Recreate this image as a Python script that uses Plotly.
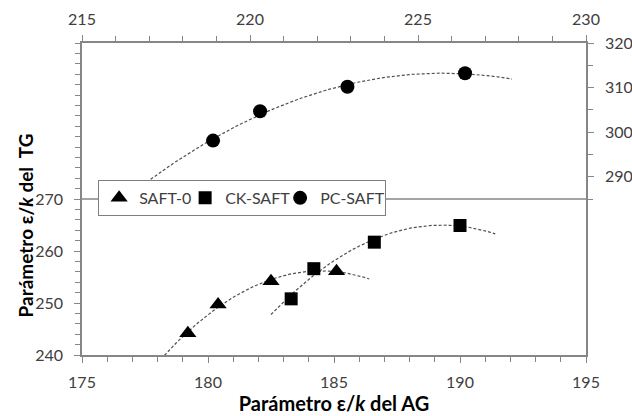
import numpy as np
import plotly.graph_objects as go

# ---- data ----
saft0_x = [179.2, 180.4, 182.5, 185.1]
saft0_y = [244.2, 249.7, 254.2, 256.1]
ck_x = [183.3, 184.2, 186.6, 190.0]
ck_y = [250.8, 256.6, 261.7, 264.9]
pc_x = [218.9, 220.3, 222.9, 226.4]   # top / right axes
pc_y = [298.1, 304.7, 310.2, 313.2]

saft0_trend_range = [178.0, 186.4]
ck_trend_range = [182.5, 191.4]
pc_trend_range = [216.8, 227.8]

bottom_ticks = [175, 180, 185, 190, 195]
left_ticks = [240, 250, 260, 270]
top_ticks = [215, 220, 225, 230]
right_ticks = [290, 300, 310, 320]
right_minor = [285, 295, 305, 315]

FONT = "Lato"
TICKC = "#404040"
AXC = "#868686"
TRENDC = "#505050"


def trend(xs, ys, rng):
    c = np.polyfit(xs, ys, 2)
    xx = np.linspace(rng[0], rng[1], 80)
    return xx, np.polyval(c, xx)


fig = go.Figure()

for xs, ys, rng, xa, ya in [
    (saft0_x, saft0_y, saft0_trend_range, "x", "y"),
    (ck_x, ck_y, ck_trend_range, "x", "y"),
    (pc_x, pc_y, pc_trend_range, "x2", "y2"),
]:
    tx, ty = trend(xs, ys, rng)
    fig.add_trace(go.Scatter(x=tx, y=ty, mode="lines", xaxis=xa, yaxis=ya,
                             line=dict(color=TRENDC, width=1.2, dash="3px,2px"),
                             showlegend=False, hoverinfo="skip"))

fig.add_trace(go.Scatter(x=saft0_x, y=saft0_y, mode="markers", name="SAFT-0",
                         legendwidth=41,
                         marker=dict(symbol="triangle-up", size=15, color="black")))
fig.add_trace(go.Scatter(x=ck_x, y=ck_y, mode="markers", name="CK-SAFT",
                         legendwidth=50,
                         marker=dict(symbol="square", size=13, color="black")))
fig.add_trace(go.Scatter(x=pc_x, y=pc_y, mode="markers", name="PC-SAFT",
                         legendwidth=60, xaxis="x2", yaxis="y2",
                         marker=dict(symbol="circle", size=14, color="black")))

# horizontal separator line at 270
fig.add_shape(type="line", xref="paper", yref="y", x0=0, x1=1, y0=270, y1=270,
              line=dict(color=AXC, width=1.5), layer="below")

# left axis title (placed to match the reference position)
fig.add_annotation(text="Parámetro ε/<i>k</i> del\u00a0 TG", xref="paper", yref="paper",
                   x=-0.112, y=0.414, xanchor="center", yanchor="middle",
                   textangle=-90, showarrow=False,
                   font=dict(family=FONT, size=19, color="black", weight="bold"))

tickfont = dict(family=FONT, size=16, color=TICKC)
common = dict(showline=True, linecolor=AXC, linewidth=1.5, showgrid=False,
              zeroline=False, ticks="outside", ticklen=6, tickcolor=AXC,
              tickwidth=1, tickfont=tickfont, automargin=False)

fig.update_layout(
    width=632, height=416,
    margin=dict(l=82, r=46, t=43, b=61),
    paper_bgcolor="white", plot_bgcolor="white",
    font=dict(family=FONT, color="black"),
    xaxis=dict(range=[175, 195], tickvals=bottom_ticks, anchor="y",
               ticklabelstandoff=6,
               minor=dict(dtick=1, tick0=175, ticks="outside", ticklen=5,
                          tickcolor=AXC),
               title=dict(text="Parámetro ε/<i>k</i> del AG",
                          font=dict(family=FONT, size=20, color="black",
                                    weight="bold"), standoff=6),
               **common),
    yaxis=dict(range=[240, 300], tickvals=left_ticks, anchor="x",
               ticklabelstandoff=8,
               minor=dict(dtick=2, tick0=240, ticks="outside", ticklen=5,
                          tickcolor=AXC),
               **common),
    xaxis2=dict(range=[215, 230], tickvals=top_ticks, overlaying="x",
                side="top", anchor="y2", ticklabelstandoff=4,
                minor=dict(dtick=1, tick0=215, ticks="outside", ticklen=5,
                           tickcolor=AXC),
                **common),
    yaxis2=dict(range=[250, 320], tickvals=right_ticks, overlaying="y",
                side="right", anchor="x2", ticklabelstandoff=8,
                minor=dict(tickvals=right_minor, ticks="outside", ticklen=5,
                           tickcolor=AXC),
                **common),
    legend=dict(orientation="h", x=0.032, y=0.561, xanchor="left",
                yanchor="top", bgcolor="white", bordercolor="#7f7f7f",
                borderwidth=1, font=dict(family=FONT, size=16, color=TICKC),
                itemwidth=30),
)

fig.write_html("out.html")
